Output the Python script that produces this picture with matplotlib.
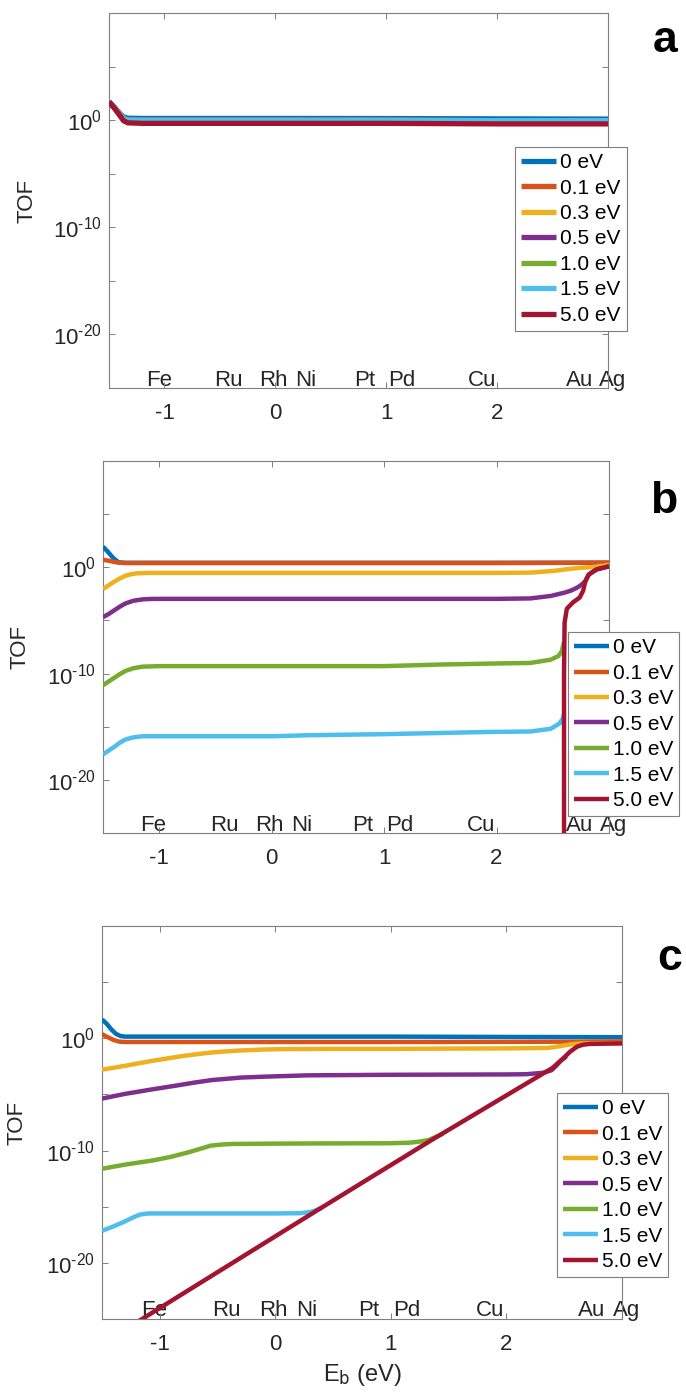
import matplotlib.pyplot as plt
import matplotlib.ticker as mticker
import numpy as np

plt.rcParams['font.family'] = ['Liberation Sans', 'DejaVu Sans']
plt.rcParams['mathtext.default'] = 'regular'
plt.rcParams['axes.unicode_minus'] = False

# binding energy data, TOF stored as log10 exponents
labels = ['0 eV', '0.1 eV', '0.3 eV', '0.5 eV', '1.0 eV', '1.5 eV', '5.0 eV']
colors = ['#0072BD', '#D95319', '#EDB120', '#7E2F8E', '#77AC30', '#4DBEEE', '#A2142F']

elements = ['Fe', 'Ru', 'Rh', 'Ni', 'Pt', 'Pd', 'Cu', 'Au', 'Ag']
element_eb = [-1.05, -0.42, -0.02, 0.27, 0.81, 1.14, 1.86, 2.74, 3.04]

# ---- panel a
a_x = [-1.5, -1.45, -1.40, -1.37, -1.33, -1.2, 0.0, 1.0, 2.0, 3.0]
a_0 = [1.71, 1.2, 0.6, 0.3, 0.18, 0.16, 0.16, 0.15, 0.12, 0.1]
a_mid = [1.71, 1.15, 0.5, 0.15, 0.0, -0.02, -0.02, -0.02, -0.05, -0.05]
a_5 = [1.71, 1.1, 0.4, -0.05, -0.25, -0.3, -0.3, -0.3, -0.35, -0.35]

# ---- panel b
b0_x = [-1.5, -1.46, -1.42, -1.39, -1.36, -1.3, 0.0, 1.0, 2.0, 3.0]
b0_y = [1.94, 1.5, 1.0, 0.7, 0.47, 0.42, 0.42, 0.42, 0.42, 0.42]
b1_x = [-1.5, -1.45, -1.4, -1.35, -1.3, 0.0, 1.0, 2.0, 2.5, 3.0]
b1_y = [0.71, 0.62, 0.5, 0.42, 0.4, 0.4, 0.4, 0.4, 0.42, 0.45]
b3_x = [-1.5, -1.45, -1.4, -1.35, -1.3, -1.25, -1.2, -1.1, 0.0, 1.0, 2.0, 2.3, 2.5, 2.65, 2.75, 2.86, 2.95, 3.0]
b3_y = [-2.04, -1.7, -1.35, -1.05, -0.8, -0.65, -0.57, -0.53, -0.53, -0.53, -0.53, -0.5, -0.35, -0.15, -0.05, 0.03, 0.15, 0.25]
b5_x = [-1.5, -1.45, -1.4, -1.35, -1.3, -1.23, -1.15, -1.08, -1.0, 0.0, 1.0, 2.0, 2.3, 2.48, 2.6, 2.66, 2.72, 2.76, 2.79, 2.82, 2.89, 3.0]
b5_y = [-4.69, -4.4, -4.05, -3.7, -3.4, -3.15, -3.02, -2.98, -2.97, -2.97, -2.97, -2.97, -2.93, -2.7, -2.4, -2.2, -1.9, -1.6, -1.3, -0.68, -0.2, 0.09]
b10_x = [-1.5, -1.45, -1.4, -1.35, -1.3, -1.23, -1.15, -1.0, 0.0, 1.0, 1.5, 2.0, 2.3, 2.48, 2.55, 2.58, 2.6]
b10_y = [-11.1, -10.75, -10.4, -10.05, -9.75, -9.5, -9.35, -9.3, -9.3, -9.3, -9.15, -9.05, -9.0, -8.7, -8.35, -7.9, -7.0]
b15_x = [-1.5, -1.45, -1.4, -1.35, -1.3, -1.23, -1.15, -1.0, 0.0, 0.33, 1.0, 1.9, 2.3, 2.48, 2.56, 2.59, 2.6]
b15_y = [-17.6, -17.25, -16.9, -16.5, -16.2, -16.0, -15.9, -15.9, -15.9, -15.8, -15.7, -15.5, -15.45, -15.2, -14.7, -14.2, -13.8]
b50_x = [2.6, 2.6, 2.6, 2.605, 2.625, 2.68, 2.74, 2.77, 2.79, 2.82, 2.89, 3.0]
b50_y = [-30, -20, -10, -5.2, -3.9, -3.3, -2.84, -2.2, -1.3, -0.68, -0.2, 0.09]

# ---- panel c
c0_x = [-1.5, -1.46, -1.42, -1.38, -1.34, -1.3, 0.0, 1.0, 2.0, 3.0]
c0_y = [1.68, 1.3, 0.8, 0.4, 0.2, 0.15, 0.15, 0.15, 0.12, 0.1]
c1_x = [-1.5, -1.45, -1.4, -1.35, -1.3, 0.0, 1.0, 2.0, 2.6, 3.0]
c1_y = [0.36, 0.1, -0.15, -0.3, -0.33, -0.33, -0.33, -0.32, -0.3, -0.27]
c3_x = [-1.5, -1.3, -1.06, -0.79, -0.56, -0.33, -0.1, 0.08, 0.5, 1.0, 2.0, 2.36, 2.46, 2.55, 2.62, 2.7, 3.0]
c3_y = [-2.8, -2.45, -2.0, -1.56, -1.27, -1.1, -1.0, -0.96, -0.94, -0.94, -0.9, -0.86, -0.71, -0.55, -0.47, -0.45, -0.45]
c5_x = [-1.5, -1.3, -1.06, -0.85, -0.71, -0.55, -0.48, -0.3, -0.1, 0.28, 1.0, 2.0, 2.17, 2.32, 2.39, 2.43, 2.47, 2.52]
c5_y = [-5.37, -4.95, -4.54, -4.2, -3.96, -3.72, -3.66, -3.5, -3.42, -3.3, -3.25, -3.22, -3.2, -3.07, -2.85, -2.45, -2.0, -1.6]
c10_x = [-1.5, -1.3, -1.06, -0.9, -0.75, -0.62, -0.56, -0.45, -0.37, 0.0, 0.5, 0.97, 1.16, 1.25, 1.33, 1.45]
c10_y = [-11.62, -11.25, -10.88, -10.55, -10.15, -9.75, -9.56, -9.45, -9.41, -9.38, -9.36, -9.35, -9.3, -9.2, -9.05, -8.5]
c15_x = [-1.5, -1.4, -1.3, -1.22, -1.17, -1.1, 0.0, 0.21, 0.28, 0.33, 0.4]
c15_y = [-17.15, -16.75, -16.3, -15.9, -15.7, -15.6, -15.6, -15.58, -15.5, -15.4, -15.1]
c50_x = [-1.2, 0.35, 1.37, 2.40, 2.49, 2.55, 2.61, 2.66, 2.72, 3.0]
c50_y = [-25.3, -15.4, -8.95, -2.63, -1.8, -1.2, -0.75, -0.58, -0.5, -0.45]

panel_a = [(a_x, a_0)] + [(a_x, a_mid)] * 5 + [(a_x, a_5)]
panel_b = [(b0_x, b0_y), (b1_x, b1_y), (b3_x, b3_y), (b5_x, b5_y),
           (b10_x, b10_y), (b15_x, b15_y), (b50_x, b50_y)]
panel_c = [(c0_x, c0_y), (c1_x, c1_y), (c3_x, c3_y), (c5_x, c5_y),
           (c10_x, c10_y), (c15_x, c15_y), (c50_x, c50_y)]

W, H = 686, 1396
fig = plt.figure(figsize=(W / 100, H / 100), dpi=100)


def px_axes(l, t, r, b):
    return fig.add_axes([l / W, 1 - b / H, (r - l) / W, (b - t) / H])


def log_label(v, pos):
    e = int(round(np.log10(v)))
    return r'$\mathdefault{10^{%s}}$' % str(e).replace('-', '\u2010')


def draw_panel(ax, series, lw, leg_anchor):
    for (x, y), lab, col in zip(series, labels, colors):
        ax.plot(x, 10.0 ** np.array(y), color=col, lw=lw, label=lab,
                solid_capstyle='butt', solid_joinstyle='round', zorder=3)
    ax.set_yscale('log')
    ax.set_xlim(-1.5, 3.0)
    ax.set_ylim(1e-25, 1e10)
    ax.set_xticks([-1, 0, 1, 2])
    ax.yaxis.set_major_locator(mticker.FixedLocator([1e-20, 1e-10, 1e0]))
    ax.yaxis.set_major_formatter(mticker.FuncFormatter(log_label))
    ax.yaxis.set_minor_locator(mticker.FixedLocator([1e-15, 1e-5, 1e5]))
    ax.yaxis.set_minor_formatter(mticker.NullFormatter())
    ax.tick_params(which='both', direction='in', top=True, right=True,
                   length=4, width=0.7, color='#7f7f7f', labelsize=16,
                   labelcolor='#262626')
    ax.tick_params(axis='x', pad=11)
    ax.tick_params(axis='y', pad=5)
    for s in ax.spines.values():
        s.set_color('#7f7f7f')
        s.set_linewidth(0.8)
    ax.set_ylabel('TOF', fontsize=16, color='#262626')
    ax.yaxis.set_label_coords(-0.143, 0.5)
    trans = ax.get_xaxis_transform()
    for name, eb in zip(elements, element_eb):
        ax.text(eb, 0.021, name, transform=trans, ha='center', va='center',
                fontsize=16, color='#262626', zorder=1)
    leg = ax.legend(loc='upper left', bbox_to_anchor=leg_anchor, fontsize=15,
                    frameon=True, fancybox=False, framealpha=1,
                    edgecolor='#7f7f7f', borderpad=0.3, labelspacing=0.31,
                    handlelength=1.65, handletextpad=0.2, borderaxespad=0)
    leg.get_frame().set_linewidth(0.8)
    leg.set_zorder(5)


ax_a = px_axes(109, 13, 608, 388)
draw_panel(ax_a, panel_a, 3.8, (0.814, 0.643))

ax_b = px_axes(103, 461, 609, 833)
draw_panel(ax_b, panel_b, 3.2, (0.919, 0.540))

ax_c = px_axes(102, 926, 622, 1319)
draw_panel(ax_c, panel_c, 3.2, (0.875, 0.575))
ax_c.set_xlabel(r'E$_\mathrm{b}$ (eV)', fontsize=17, color='#262626')
ax_c.xaxis.set_label_coords(0.5, -0.11)

fig.text(665 / W, 1 - 52 / H, 'a', fontsize=32, fontweight='bold', ha='center', va='baseline')
fig.text(664 / W, 1 - 513 / H, 'b', fontsize=32, fontweight='bold', ha='center', va='baseline')
fig.text(670 / W, 1 - 970 / H, 'c', fontsize=32, fontweight='bold', ha='center', va='baseline')

fig.savefig('out.png', dpi=100)
